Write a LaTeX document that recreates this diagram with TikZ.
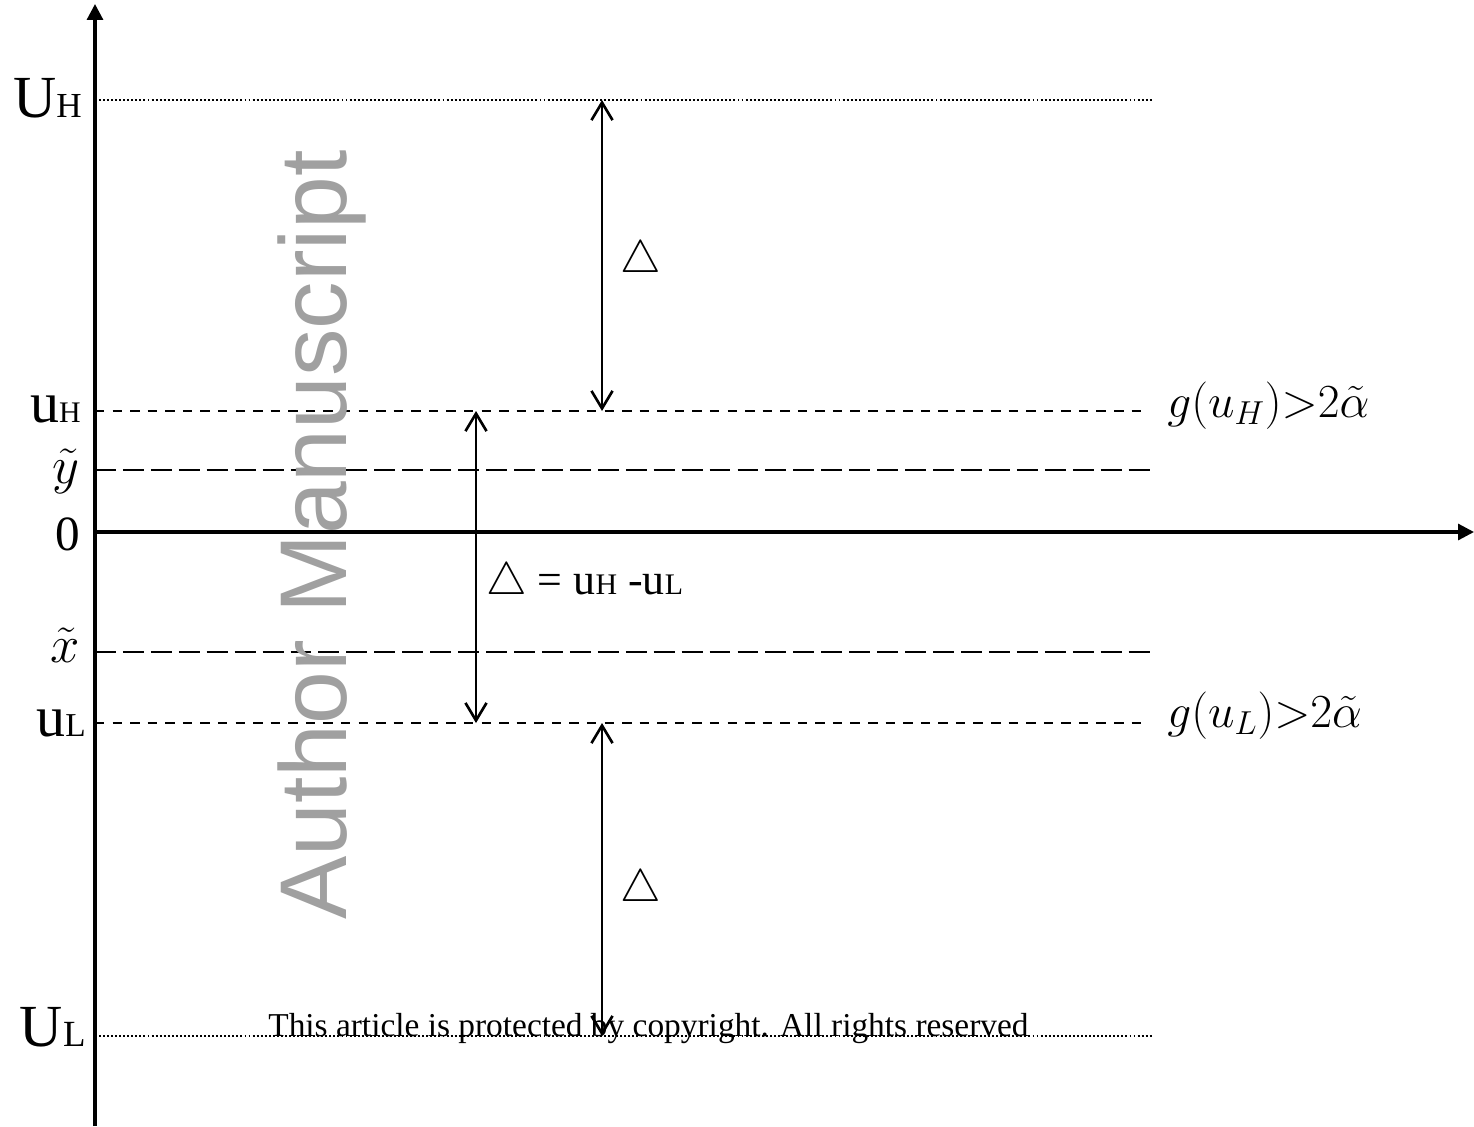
\RequirePackage{fix-cm}
\documentclass[tikz,border=0pt]{standalone}
\usepackage{fontspec}
\setmainfont{Liberation Serif}
\newfontfamily\markfont{Liberation Sans}
\usetikzlibrary{arrows.meta,positioning,calc}
\definecolor{markgray}{RGB}{160,160,160}

% text at a given point size
\newcommand{\fs}[2]{{\fontsize{#1}{#1}\selectfont #2}}

\tikzset{
    axisline/.style={line width=1.8pt, -{Triangle[length=9pt,width=9pt]}},
    boundline/.style={line width=1.2pt, dash pattern=on 1.1pt off 1.2pt},
    threshline/.style={line width=1.5pt, dash pattern=on 5.4pt off 4.6pt},
    pointline/.style={line width=1.6pt, dash pattern=on 11.9pt off 4pt},
    gaparrow/.style={line width=1.5pt, {Straight Barb[length=10pt,width=12pt]}-{Straight Barb[length=10pt,width=12pt]}},
    lvl/.style={inner sep=0pt, anchor=base east},
    cond/.style={inner sep=0pt, anchor=base west},
}

\begin{document}
\begin{tikzpicture}[x=0.02cm, y=-0.02cm]
    \useasboundingbox (0,0) rectangle (1474,1126);

    % Axes
    \coordinate (ybot) at (95,1126);
    \coordinate (ytop) at (95,4);
    \coordinate (orig) at (95,532);
    \coordinate (xend) at (1474,532);
    \draw[axisline] (ybot) -- (ytop);
    \draw[axisline] (orig) -- (xend);

    % Levels
    \draw[boundline] (95,100) coordinate (UH) -- (1152,100);
    \draw[threshline] (95,411) coordinate (uH) -- (1146,411);
    \draw[pointline] (95,470) coordinate (yt) -- (1152,470);
    \draw[pointline] (95,652) coordinate (xt) -- (1152,652);
    \draw[threshline] (95,723) coordinate (uL) -- (1146,723);
    \draw[boundline] (95,1036) coordinate (UL) -- (1152,1036);

    % Level labels
    \node[lvl] (UHlbl) at (82,117) {\fs{34}{U}\fs{20}{H}};
    \node[lvl] (uHlbl) at (81,422) {\fs{33}{u}\fs{17}{H}};
    \node[lvl] (ytlbl) at (80,483) {\fs{30}{$\tilde{y}$}};
    \node[lvl] (zerolbl) at (80,550) {\fs{28}{0}};
    \node[lvl] (xtlbl) at (80,662) {\fs{30}{$\tilde{x}$}};
    \node[lvl] (uLlbl) at (86,736) {\fs{33}{u}\fs{19}{L}};
    \node[lvl] (ULlbl) at (86,1046) {\fs{34}{U}\fs{21}{L}};

    % Conditions at the thresholds
    \node[cond] (gH) at (1167,417) {\fs{27}{$g(u_H){>}2\tilde{\alpha}$}};
    \node[cond] (gL) at (1167,727) {\fs{27}{$g(u_L){>}2\tilde{\alpha}$}};

    % Gaps between the levels
    \coordinate (upA) at (602,100);
    \coordinate (upB) at (602,411);
    \coordinate (midA) at (476,411);
    \coordinate (midB) at (476,723);
    \coordinate (loA) at (602,723);
    \coordinate (loB) at (602,1036);
    \draw[gaparrow] (upA) -- (upB);
    \draw[gaparrow] (midA) -- (midB);
    \draw[gaparrow] (loA) -- (loB);
    \node[cond] (dup) at (620,272) {\fs{26}{$\bigtriangleup$}};
    \node[cond] (dlo) at (620,901) {\fs{26}{$\bigtriangleup$}};
    \node[cond] (dmid) at (486,594) {\fs{26}{$\bigtriangleup$}\fs{25}{ = u}\fs{17}{H}\fs{25}{ -u}\fs{17}{L}};

    % Watermark and notice
    \node[rotate=90, cond, text=markgray] (mark) at (346,920) {\markfont\fontsize{54}{54}\selectfont Author Manuscript};
    \node[cond] (notice) at (268,1036) {\fs{19}{This article is protected by copyright. All rights reserved}};
\end{tikzpicture}
\end{document}
